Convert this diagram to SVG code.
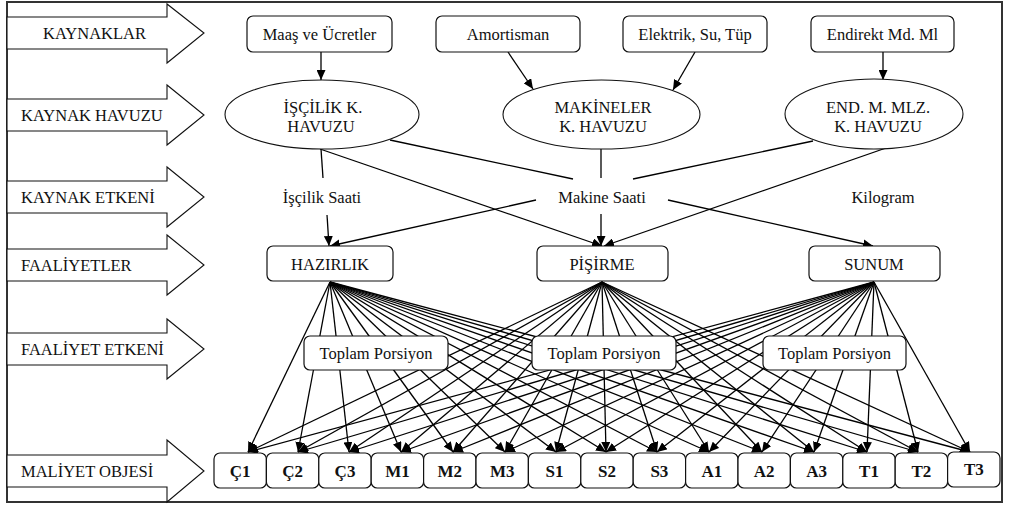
<svg xmlns="http://www.w3.org/2000/svg" width="1009" height="506" viewBox="0 0 1009 506" font-family="'Liberation Serif', 'DejaVu Serif', serif">
<style>
text{font-family:'Liberation Serif','DejaVu Serif',serif;font-size:16.5px;fill:#111;}
.c{text-anchor:middle;}
.b{font-weight:bold;font-size:17px;}
.box{fill:#fff;stroke:#111;stroke-width:1.2;}
.ell{fill:#fff;stroke:#111;stroke-width:1.1;}
.band{fill:#fff;stroke:#111;stroke-width:1.1;}
.ln{stroke:#000;stroke-width:1.3;fill:none;}
.ar{stroke:#000;stroke-width:1.3;fill:none;marker-end:url(#ah);}
</style>
<defs>
<marker id="ah" markerUnits="userSpaceOnUse" markerWidth="11" markerHeight="9" refX="10" refY="4.5" orient="auto">
<path d="M0,0 L10,4.5 L0,9 z" fill="#000"/>
</marker>
</defs>
<rect x="0" y="0" width="1009" height="506" fill="#fff"/>
<rect x="7" y="2" width="995" height="500" fill="none" stroke="#333" stroke-width="2"/>

<g id="bands">
<g id="band-kaynaklar"><polygon class="band" points="7,17 167,17 167,4 204,33 167,63 167,49 7,49"/><text x="43" y="38.5">KAYNAKLAR</text></g>
<g id="band-havuz"><polygon class="band" points="7,99 167,99 167,85 204,115 167,145 167,131 7,131"/><text x="21" y="120.5">KAYNAK HAVUZU</text></g>
<g id="band-etken"><polygon class="band" points="7,181 167,181 167,167 204,197 167,227 167,213 7,213"/><text x="21" y="202.5">KAYNAK ETKENİ</text></g>
<g id="band-faaliyet"><polygon class="band" points="7,249 167,249 167,235 204,265 167,295 167,281 7,281"/><text x="21" y="270.5">FAALİYETLER</text></g>
<g id="band-fetken"><polygon class="band" points="7,333 167,333 167,319 204,349 167,379 167,365 7,365"/><text x="21" y="354.5">FAALİYET ETKENİ</text></g>
<g id="band-obje"><polygon class="band" points="7,455 167,455 167,440 204,471 167,502 167,487 7,487"/><text x="21" y="476.5">MALİYET OBJESİ</text></g>
</g>

<g id="connectors">
<line class="ar" x1="321" y1="52" x2="321" y2="80"/>
<line class="ar" x1="508" y1="52" x2="533" y2="89"/>
<line class="ar" x1="695" y1="52" x2="673" y2="90"/>
<line class="ar" x1="883" y1="52" x2="883" y2="80"/>
<line class="ln" x1="321" y1="149" x2="323" y2="178"/>
<line class="ar" x1="327" y1="215" x2="329" y2="246"/>
<line class="ln" x1="390" y1="140" x2="573" y2="179"/>
<line class="ar" x1="320" y1="149" x2="602" y2="246"/>
<line class="ln" x1="601" y1="149" x2="601" y2="178"/>
<line class="ar" x1="601" y1="214" x2="601" y2="246"/>
<line class="ar" x1="536" y1="200" x2="330" y2="246"/>
<line class="ln" x1="813" y1="141" x2="633" y2="179"/>
<line class="ar" x1="886" y1="148" x2="604" y2="246"/>
<line class="ar" x1="668" y1="200" x2="873" y2="246"/>
<g id="act-to-obj">
<line class="ar" x1="330" y1="282" x2="248" y2="452"/><line class="ar" x1="330" y1="282" x2="298" y2="452"/><line class="ar" x1="330" y1="282" x2="349" y2="452"/><line class="ar" x1="330" y1="282" x2="401" y2="452"/><line class="ar" x1="330" y1="282" x2="453" y2="452"/><line class="ar" x1="330" y1="282" x2="505" y2="452"/><line class="ar" x1="330" y1="282" x2="556" y2="452"/><line class="ar" x1="330" y1="282" x2="606" y2="452"/><line class="ar" x1="330" y1="282" x2="657" y2="452"/><line class="ar" x1="330" y1="282" x2="709" y2="452"/><line class="ar" x1="330" y1="282" x2="762" y2="452"/><line class="ar" x1="330" y1="282" x2="814" y2="452"/><line class="ar" x1="330" y1="282" x2="867" y2="452"/><line class="ar" x1="330" y1="282" x2="918" y2="452"/><line class="ar" x1="330" y1="282" x2="970" y2="452"/>
<line class="ar" x1="602" y1="282" x2="248" y2="452"/><line class="ar" x1="602" y1="282" x2="298" y2="452"/><line class="ar" x1="602" y1="282" x2="349" y2="452"/><line class="ar" x1="602" y1="282" x2="401" y2="452"/><line class="ar" x1="602" y1="282" x2="453" y2="452"/><line class="ar" x1="602" y1="282" x2="505" y2="452"/><line class="ar" x1="602" y1="282" x2="556" y2="452"/><line class="ar" x1="602" y1="282" x2="606" y2="452"/><line class="ar" x1="602" y1="282" x2="657" y2="452"/><line class="ar" x1="602" y1="282" x2="709" y2="452"/><line class="ar" x1="602" y1="282" x2="762" y2="452"/><line class="ar" x1="602" y1="282" x2="814" y2="452"/><line class="ar" x1="602" y1="282" x2="867" y2="452"/><line class="ar" x1="602" y1="282" x2="918" y2="452"/><line class="ar" x1="602" y1="282" x2="970" y2="452"/>
<line class="ar" x1="874" y1="282" x2="248" y2="452"/><line class="ar" x1="874" y1="282" x2="298" y2="452"/><line class="ar" x1="874" y1="282" x2="349" y2="452"/><line class="ar" x1="874" y1="282" x2="401" y2="452"/><line class="ar" x1="874" y1="282" x2="453" y2="452"/><line class="ar" x1="874" y1="282" x2="505" y2="452"/><line class="ar" x1="874" y1="282" x2="556" y2="452"/><line class="ar" x1="874" y1="282" x2="606" y2="452"/><line class="ar" x1="874" y1="282" x2="657" y2="452"/><line class="ar" x1="874" y1="282" x2="709" y2="452"/><line class="ar" x1="874" y1="282" x2="762" y2="452"/><line class="ar" x1="874" y1="282" x2="814" y2="452"/><line class="ar" x1="874" y1="282" x2="867" y2="452"/><line class="ar" x1="874" y1="282" x2="918" y2="452"/><line class="ar" x1="874" y1="282" x2="970" y2="452"/>
</g>
</g>

<g id="src-maas"><rect class="box" x="247" y="16" width="145" height="36" rx="6"/><text class="c" x="319.5" y="39.5">Maaş ve Ücretler</text></g>
<g id="src-amort"><rect class="box" x="436" y="16" width="144" height="36" rx="6"/><text class="c" x="508" y="39.5">Amortisman</text></g>
<g id="src-elektrik"><rect class="box" x="623" y="16" width="144" height="36" rx="6"/><text class="c" x="695" y="39.5">Elektrik, Su, Tüp</text></g>
<g id="src-endirekt"><rect class="box" x="811" y="16" width="143" height="36" rx="6"/><text class="c" x="882.5" y="39.5">Endirekt Md. Ml</text></g>

<g id="pool-iscilik"><ellipse class="ell" cx="322" cy="114.5" rx="97" ry="34.5"/><text class="c" x="323" y="113">İŞÇİLİK K.</text><text class="c" x="321" y="132">HAVUZU</text></g>
<g id="pool-makine"><ellipse class="ell" cx="601.5" cy="114.5" rx="98.5" ry="34.5"/><text class="c" x="603" y="113">MAKİNELER</text><text class="c" x="603" y="132">K. HAVUZU</text></g>
<g id="pool-end"><ellipse class="ell" cx="874" cy="114" rx="89" ry="35"/><text class="c" x="878" y="113">END. M. MLZ.</text><text class="c" x="878" y="132">K. HAVUZU</text></g>

<g id="drv-iscilik"><text class="c" x="322" y="203">İşçilik Saati</text></g>
<g id="drv-makine"><text class="c" x="602" y="203">Makine Saati</text></g>
<g id="drv-kilogram"><text class="c" x="883" y="203">Kilogram</text></g>

<g id="act-hazirlik"><rect class="box" x="267" y="246" width="126" height="35" rx="6"/><text class="c" x="330" y="269.5">HAZIRLIK</text></g>
<g id="act-pisirme"><rect class="box" x="537" y="246" width="131" height="35" rx="6"/><text class="c" x="602" y="269.5">PİŞİRME</text></g>
<g id="act-sunum"><rect class="box" x="809" y="246" width="131" height="35" rx="6"/><text class="c" x="874" y="269.5">SUNUM</text></g>

<g id="fd-1"><rect class="box" x="304" y="336" width="144" height="34" rx="6"/><text class="c" x="376" y="358.5">Toplam Porsiyon</text></g>
<g id="fd-2"><rect class="box" x="532" y="336" width="144" height="34" rx="6"/><text class="c" x="604" y="358.5">Toplam Porsiyon</text></g>
<g id="fd-3"><rect class="box" x="763" y="336" width="143" height="34" rx="6"/><text class="c" x="834.5" y="358.5">Toplam Porsiyon</text></g>

<g id="obj-c1"><rect class="box" x="214" y="453" width="52.4" height="35" rx="6"/><text class="c b" x="240.2" y="477">Ç1</text></g>
<g id="obj-c2"><rect class="box" x="266.4" y="453" width="52.4" height="35" rx="6"/><text class="c b" x="292.6" y="477">Ç2</text></g>
<g id="obj-c3"><rect class="box" x="318.8" y="453" width="52.4" height="35" rx="6"/><text class="c b" x="345" y="477">Ç3</text></g>
<g id="obj-m1"><rect class="box" x="371.2" y="453" width="52.4" height="35" rx="6"/><text class="c b" x="397.4" y="477">M1</text></g>
<g id="obj-m2"><rect class="box" x="423.6" y="453" width="52.4" height="35" rx="6"/><text class="c b" x="449.8" y="477">M2</text></g>
<g id="obj-m3"><rect class="box" x="476" y="453" width="52.4" height="35" rx="6"/><text class="c b" x="502.2" y="477">M3</text></g>
<g id="obj-s1"><rect class="box" x="528.4" y="453" width="52.4" height="35" rx="6"/><text class="c b" x="554.6" y="477">S1</text></g>
<g id="obj-s2"><rect class="box" x="580.8" y="453" width="52.4" height="35" rx="6"/><text class="c b" x="607" y="477">S2</text></g>
<g id="obj-s3"><rect class="box" x="633.2" y="453" width="52.4" height="35" rx="6"/><text class="c b" x="659.4" y="477">S3</text></g>
<g id="obj-a1"><rect class="box" x="685.6" y="453" width="52.4" height="35" rx="6"/><text class="c b" x="711.8" y="477">A1</text></g>
<g id="obj-a2"><rect class="box" x="738" y="453" width="52.4" height="35" rx="6"/><text class="c b" x="764.2" y="477">A2</text></g>
<g id="obj-a3"><rect class="box" x="790.4" y="453" width="52.4" height="35" rx="6"/><text class="c b" x="816.6" y="477">A3</text></g>
<g id="obj-t1"><rect class="box" x="842.8" y="453" width="52.4" height="35" rx="6"/><text class="c b" x="869" y="477">T1</text></g>
<g id="obj-t2"><rect class="box" x="895.2" y="453" width="52.4" height="35" rx="6"/><text class="c b" x="921.4" y="477">T2</text></g>
<g id="obj-t3"><rect class="box" x="947.6" y="452" width="52.4" height="35" rx="6"/><text class="c b" x="973.8" y="475">T3</text></g>
</svg>
